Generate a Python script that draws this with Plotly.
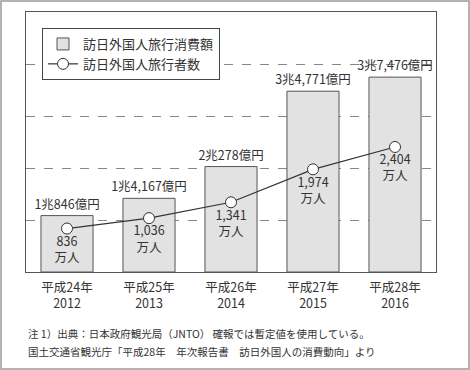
import plotly.graph_objects as go

years = ["平成24年<br>2012", "平成25年<br>2013", "平成26年<br>2014", "平成27年<br>2015", "平成28年<br>2016"]
spending = [10846, 14167, 20278, 34771, 37476]  # 億円
spending_labels = ["1兆846億円", "1兆4,167億円", "2兆278億円", "3兆4,771億円", "3兆7,476億円"]
visitors = [836, 1036, 1341, 1974, 2404]  # 万人
visitor_labels = ["836<br>万人", "1,036<br>万人", "1,341<br>万人", "1,974<br>万人", "2,404<br>万人"]
notes = ["注 1）出典：日本政府観光局（JNTO） 確報では暫定値を使用している。",
         "国土交通省観光庁「平成28年　年次報告書　訪日外国人の消費動向」より"]

FONT = "Noto Sans CJK JP"
TXT = "#333333"
W, H = 470, 370
ML, MR, MT, MB = 26, 34, 12, 98
PW, PH = W - ML - MR, H - MT - MB

fig = go.Figure()
fig.add_trace(go.Bar(
    x=years, y=spending, name="訪日外国人旅行消費額",
    marker=dict(color="#e2e2e2", line=dict(color="#555555", width=1)),
    width=0.635,
    text=spending_labels, textposition="outside", cliponaxis=False, constraintext="none",
    textfont=dict(size=12.5, color=TXT, family=FONT),
))
fig.add_trace(go.Scatter(
    x=years, y=visitors, name="訪日外国人旅行者数", yaxis="y2",
    mode="lines+markers+text",
    line=dict(color="#333333", width=1.2),
    marker=dict(size=11, color="white", line=dict(color="#333333", width=1)),
    text=visitor_labels, textposition="bottom center", cliponaxis=False,
    textfont=dict(size=12.5, color=TXT, family=FONT),
))

def px(xp):
    return (xp - ML) / PW

def py(yp):
    return (H - MB - yp) / PH

shapes = [dict(type="rect", xref="paper", yref="paper",
               x0=px(1), x1=px(469), y0=py(369), y1=py(1),
               line=dict(color="#9a9a9a", width=1.5), fillcolor="rgba(0,0,0,0)")]

annotations = []
for i, t in enumerate(notes):
    annotations.append(dict(text=t, xref="paper", yref="paper", x=px(26), y=py(333 + i * 18),
                            xanchor="left", yanchor="middle", showarrow=False,
                            font=dict(size=10.5, color=TXT, family=FONT)))

fig.update_layout(
    width=W, height=H,
    margin=dict(l=ML, r=MR, t=MT, b=MB),
    paper_bgcolor="white", plot_bgcolor="white",
    font=dict(family=FONT, color=TXT),
    showlegend=True,
    legend=dict(x=px(42), y=py(28), xanchor="left", yanchor="top",
                bordercolor="#444444", borderwidth=1, bgcolor="white",
                font=dict(size=13, color=TXT, family=FONT),
                tracegroupgap=0, itemwidth=30),
    xaxis=dict(showline=True, linecolor="#555555", linewidth=1, mirror=True,
               tickfont=dict(size=12.5, color=TXT, family=FONT), ticks="", ticklen=0,
               ticklabelstandoff=4),
    yaxis=dict(range=[0, 50000], dtick=10000, showticklabels=False,
               showgrid=True, gridcolor="#888888", griddash="dash", gridwidth=1,
               showline=True, linecolor="#555555", linewidth=1, mirror=True, zeroline=False),
    yaxis2=dict(range=[0, 5000], overlaying="y", visible=False, showgrid=False),
    shapes=shapes, annotations=annotations,
    bargap=0.365,
)

fig.write_html("out.html", config={"displayModeBar": False},
               post_script="document.body.style.margin='0';document.body.style.overflow='hidden';")
